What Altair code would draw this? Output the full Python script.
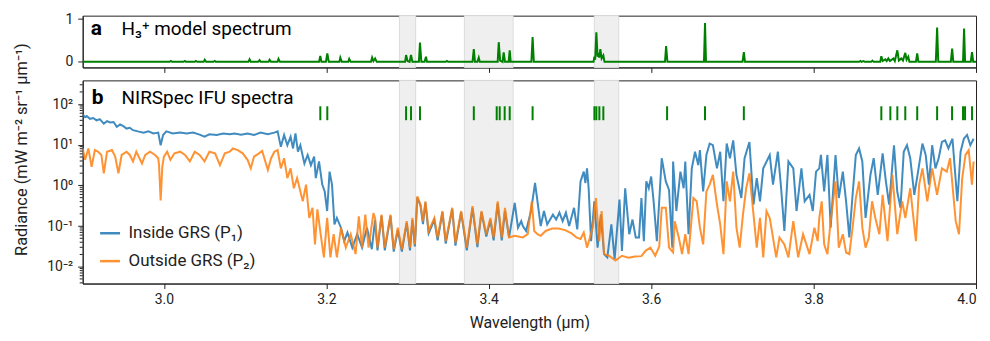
import altair as alt
import numpy as np
import pandas as pd

# ---------------- data ----------------
series_names = ["Inside GRS (P₁)", "Outside GRS (P₂)"]

# (wavelength µm, log10 radiance) for P1 (inside GRS)
p1_points = [
    (2.900, 1.74), (2.903, 1.68), (2.905, 1.71), (2.909, 1.64), (2.913, 1.66), (2.917, 1.60),
    (2.921, 1.63), (2.926, 1.52), (2.930, 1.58), (2.934, 1.55), (2.938, 1.56), (2.942, 1.44),
    (2.946, 1.50), (2.950, 1.46), (2.954, 1.40), (2.958, 1.42), (2.962, 1.36), (2.968, 1.33),
    (2.975, 1.30), (2.981, 1.33), (2.987, 1.28), (2.993, 1.30), (2.996, 0.99), (2.999, 1.24),
    (3.003, 1.33), (3.011, 1.28), (3.020, 1.30), (3.028, 1.28), (3.036, 1.30), (3.044, 1.25),
    (3.050, 1.20), (3.056, 1.26), (3.065, 1.24), (3.073, 1.28), (3.081, 1.26), (3.087, 1.28),
    (3.095, 1.25), (3.103, 1.28), (3.111, 1.24), (3.119, 1.30), (3.128, 1.26), (3.136, 1.30),
    (3.140, 1.33), (3.144, 0.95), (3.148, 1.24), (3.152, 0.99), (3.156, 1.20), (3.159, 0.91),
    (3.162, 1.28), (3.165, 0.83), (3.168, 0.99), (3.173, 0.54), (3.177, 0.75), (3.181, 0.50),
    (3.185, 0.71), (3.187, 0.18), (3.191, 0.59), (3.195, 0.02), (3.198, -0.15), (3.201, -0.63),
    (3.204, 0.34), (3.207, 0.02), (3.210, -0.96), (3.213, -0.80), (3.218, -1.04), (3.222, -1.37),
    (3.226, -1.16), (3.232, -1.53), (3.238, -1.20), (3.244, -1.53), (3.250, -1.04), (3.256, -1.57),
    (3.260, -0.85), (3.263, -1.60), (3.268, -0.75), (3.272, -1.60), (3.279, -0.75), (3.283, -1.63),
    (3.288, -1.10), (3.293, -1.63), (3.299, -0.92), (3.303, -1.60), (3.306, -0.85), (3.309, -1.50),
    (3.312, -0.30), (3.316, -0.50), (3.319, -0.95), (3.322, -0.42), (3.326, -1.18), (3.333, -0.85),
    (3.337, -1.35), (3.343, -0.66), (3.347, -1.43), (3.355, -0.58), (3.359, -1.48), (3.366, -0.66),
    (3.373, -1.60), (3.380, -0.55), (3.386, -1.52), (3.391, -0.66), (3.397, -1.26), (3.402, -0.85),
    (3.406, -1.35), (3.411, -0.45), (3.416, -1.35), (3.420, -0.63), (3.425, -1.28), (3.432, -0.43),
    (3.436, -1.04), (3.440, -0.88), (3.442, -1.00), (3.446, -1.12), (3.452, -0.63), (3.457, 0.06),
    (3.460, -0.39), (3.464, -1.00), (3.468, -0.63), (3.472, -0.96), (3.479, -0.72), (3.483, -0.84),
    (3.487, -0.67), (3.491, -0.88), (3.495, -0.67), (3.499, -1.00), (3.505, -0.55), (3.509, -1.08),
    (3.513, 0.10), (3.517, 0.34), (3.519, 0.06), (3.521, 0.42), (3.523, -0.07), (3.526, -1.37),
    (3.530, -0.39), (3.534, -1.53), (3.538, -0.72), (3.542, -1.69), (3.546, -1.77), (3.551, -0.96),
    (3.555, -1.81), (3.561, -0.35), (3.564, -1.61), (3.568, -0.07), (3.573, -1.20), (3.577, -0.84),
    (3.581, -1.28), (3.585, -1.28), (3.588, -0.31), (3.591, -1.37), (3.594, 0.10), (3.597, -0.07),
    (3.600, 0.22), (3.603, -0.39), (3.607, -1.37), (3.613, 0.67), (3.618, 0.10), (3.622, -0.11),
    (3.626, -1.53), (3.627, 0.59), (3.631, -0.63), (3.636, 0.34), (3.640, -0.07), (3.642, 0.59),
    (3.646, -1.20), (3.650, 0.42), (3.654, 0.83), (3.658, 0.50), (3.660, 0.87), (3.664, -0.15),
    (3.668, 0.75), (3.672, 1.03), (3.676, 0.99), (3.681, 0.42), (3.685, 0.83), (3.689, -0.39),
    (3.693, 1.03), (3.697, 0.67), (3.701, 1.11), (3.705, 0.26), (3.711, -0.31), (3.715, 0.67),
    (3.721, 1.07), (3.726, -0.47), (3.730, 0.18), (3.734, -0.39), (3.738, 0.42), (3.746, 0.75),
    (3.750, 0.02), (3.756, 0.83), (3.760, -0.07), (3.764, -1.12), (3.769, 0.59), (3.775, 0.42),
    (3.779, -0.63), (3.785, 0.42), (3.789, -0.39), (3.795, -0.23), (3.799, -0.63), (3.803, 0.34),
    (3.807, 0.42), (3.809, 0.75), (3.813, -0.15), (3.817, 0.75), (3.821, -1.04), (3.827, 0.75),
    (3.831, -0.31), (3.836, 0.34), (3.840, -0.39), (3.844, -1.28), (3.848, -0.23), (3.852, 0.75),
    (3.856, 0.91), (3.860, 0.59), (3.864, -0.80), (3.870, 0.26), (3.874, 0.67), (3.879, -0.23),
    (3.885, 0.79), (3.889, 0.10), (3.893, -0.47), (3.899, 0.99), (3.903, -0.15), (3.907, -0.55),
    (3.911, 0.83), (3.915, 0.99), (3.919, 0.67), (3.924, -0.23), (3.928, 0.26), (3.934, 1.03),
    (3.938, 0.75), (3.942, 0.02), (3.946, 0.99), (3.950, 0.42), (3.954, 0.67), (3.958, 1.07),
    (3.962, 1.11), (3.966, 0.91), (3.971, 1.15), (3.977, -0.39), (3.981, 0.83), (3.985, 1.15),
    (3.989, 1.24), (3.993, 0.99), (3.997, 1.15),
]

# (wavelength µm, log10 radiance) for P2 (outside GRS)
p2_points = [
    (2.900, 0.91), (2.903, 0.63), (2.907, 0.91), (2.911, 0.46), (2.915, 0.87), (2.919, 0.83),
    (2.923, 0.75), (2.926, 0.30), (2.930, 0.83), (2.936, 0.87), (2.940, 0.71), (2.944, 0.30),
    (2.948, 0.75), (2.954, 0.83), (2.958, 0.75), (2.962, 0.59), (2.966, 0.83), (2.973, 0.54),
    (2.977, 0.75), (2.983, 0.83), (2.989, 0.75), (2.993, 0.67), (2.994, 0.50), (2.996, -0.37),
    (2.998, 0.45), (3.000, 0.71), (3.004, 0.83), (3.008, 0.63), (3.013, 0.79), (3.020, 0.83),
    (3.026, 0.75), (3.032, 0.59), (3.038, 0.83), (3.044, 0.75), (3.050, 0.59), (3.056, 0.83),
    (3.063, 0.79), (3.069, 0.50), (3.075, 0.79), (3.081, 0.83), (3.085, 0.91), (3.091, 0.87),
    (3.097, 0.79), (3.103, 0.63), (3.107, 0.42), (3.111, 0.71), (3.117, 0.79), (3.121, 0.85),
    (3.128, 0.38), (3.132, 0.67), (3.136, 0.83), (3.140, 0.87), (3.144, 0.42), (3.148, 0.67),
    (3.152, 0.18), (3.156, 0.42), (3.160, -0.07), (3.164, 0.18), (3.171, -0.39), (3.175, 0.02),
    (3.179, -0.80), (3.183, -0.55), (3.186, -1.45), (3.189, -0.59), (3.193, -1.20), (3.197, -1.77),
    (3.201, -0.80), (3.205, -1.77), (3.209, -1.20), (3.213, -1.77), (3.218, -1.04), (3.224, -1.53),
    (3.230, -1.20), (3.236, -1.69), (3.240, -0.76), (3.244, -1.53), (3.248, -0.72), (3.252, -1.53),
    (3.258, -0.68), (3.260, -0.80), (3.263, -1.53), (3.268, -0.72), (3.272, -1.53), (3.279, -0.72),
    (3.283, -1.57), (3.288, -1.04), (3.293, -1.57), (3.299, -0.88), (3.303, -1.53), (3.306, -0.80),
    (3.309, -1.45), (3.312, -0.27), (3.316, -0.47), (3.319, -0.88), (3.322, -0.39), (3.326, -1.12),
    (3.333, -0.80), (3.337, -1.28), (3.343, -0.63), (3.347, -1.37), (3.355, -0.55), (3.359, -1.41),
    (3.366, -0.63), (3.373, -1.53), (3.380, -0.51), (3.386, -1.45), (3.391, -0.63), (3.397, -1.20),
    (3.402, -0.80), (3.406, -1.28), (3.411, -0.39), (3.416, -1.28), (3.420, -0.55), (3.425, -1.28),
    (3.432, -1.24), (3.442, -1.28), (3.448, -1.20), (3.453, -0.39), (3.456, -1.12), (3.460, -1.20),
    (3.464, -1.24), (3.470, -1.12), (3.478, -1.06), (3.486, -1.06), (3.494, -1.10), (3.502, -1.18),
    (3.508, -1.28), (3.513, -1.32), (3.517, -1.16), (3.521, -1.53), (3.528, -1.04), (3.532, -0.31),
    (3.536, -1.37), (3.539, -0.63), (3.542, -1.69), (3.548, -1.73), (3.556, -1.85), (3.564, -1.73),
    (3.572, -1.78), (3.580, -1.75), (3.588, -1.74), (3.593, -1.61), (3.599, -1.53), (3.605, -1.73),
    (3.610, -1.50), (3.613, -0.55), (3.618, -0.55), (3.622, -1.53), (3.627, -1.65), (3.629, -0.88),
    (3.634, -1.28), (3.638, -1.69), (3.642, -1.20), (3.646, -1.69), (3.652, -0.31), (3.656, -0.39),
    (3.660, -1.04), (3.664, -1.45), (3.668, -0.15), (3.672, 0.02), (3.676, 0.26), (3.681, -0.47),
    (3.685, -0.96), (3.689, -1.69), (3.693, 0.10), (3.697, -0.39), (3.701, 0.34), (3.705, -1.04),
    (3.709, -1.53), (3.713, -0.72), (3.717, -0.07), (3.721, 0.30), (3.726, -0.72), (3.730, -1.53),
    (3.734, -0.80), (3.738, -1.77), (3.742, -0.63), (3.746, -0.80), (3.754, -1.77), (3.758, -1.28),
    (3.764, -1.45), (3.769, -1.77), (3.775, -0.88), (3.781, -1.77), (3.787, -1.20), (3.795, -1.69),
    (3.801, -1.04), (3.805, -1.37), (3.807, -0.80), (3.810, -0.39), (3.813, -1.45), (3.817, -1.69),
    (3.821, -0.88), (3.827, 0.10), (3.831, -1.53), (3.836, -1.20), (3.840, -1.65), (3.844, -1.69),
    (3.848, -1.04), (3.852, -0.31), (3.856, 0.10), (3.860, -1.04), (3.864, -1.53), (3.868, -1.28),
    (3.872, -0.39), (3.876, -0.80), (3.881, -1.20), (3.885, -0.23), (3.891, -1.37), (3.897, 0.26),
    (3.903, -1.20), (3.909, -0.39), (3.913, -0.80), (3.919, -0.07), (3.926, -1.37), (3.930, 0.02),
    (3.934, 0.42), (3.940, -0.39), (3.946, 0.42), (3.952, -0.23), (3.958, 0.42), (3.964, 0.34),
    (3.968, 0.67), (3.975, -0.88), (3.979, -1.20), (3.983, 0.18), (3.987, 0.75), (3.991, 0.87),
    (3.995, 0.02), (3.997, 0.59),
]

# H3+ model spectrum (wavelength µm, normalised intensity)
h3_points = [
    (2.900, 0.0), (3.007, 0.0), (3.0086, 0.02), (3.010, 0.0), (3.024, 0.0), (3.0258, 0.02), (3.027, 0.0),
    (3.038, 0.0), (3.0393, 0.02), (3.041, 0.0), (3.049, 0.0), (3.0503, 0.05), (3.052, 0.0),
    (3.061, 0.0), (3.0626, 0.02), (3.064, 0.0), (3.104, 0.0), (3.1055, 0.06), (3.107, 0.0),
    (3.116, 0.0), (3.1178, 0.04), (3.119, 0.0), (3.129, 0.0), (3.1301, 0.05), (3.132, 0.0),
    (3.140, 0.0), (3.1411, 0.07), (3.143, 0.0), (3.191, 0.0), (3.1926, 0.14), (3.194, 0.0),
    (3.1995, 0.0), (3.2012, 0.20), (3.203, 0.0), (3.216, 0.0), (3.2172, 0.10), (3.219, 0.0),
    (3.227, 0.0), (3.2282, 0.07), (3.230, 0.0), (3.255, 0.0), (3.2564, 0.10), (3.258, 0.02),
    (3.2601, 0.08), (3.262, 0.0), (3.297, 0.0), (3.2982, 0.16), (3.300, 0.02), (3.3025, 0.0),
    (3.3043, 0.16), (3.306, 0.0), (3.314, 0.0), (3.3153, 0.45), (3.317, 0.0), (3.321, 0.0),
    (3.3227, 0.12), (3.324, 0.0), (3.347, 0.0), (3.3485, 0.02), (3.350, 0.0), (3.380, 0.0),
    (3.3816, 0.30), (3.383, 0.0), (3.386, 0.0), (3.3877, 0.10), (3.389, 0.0), (3.411, 0.0),
    (3.4123, 0.46), (3.414, 0.03), (3.417, 0.0), (3.4184, 0.22), (3.420, 0.0), (3.4245, 0.0),
    (3.4258, 0.27), (3.427, 0.0), (3.4525, 0.0), (3.4540, 0.58), (3.4555, 0.0), (3.529, 0.0),
    (3.5301, 0.12), (3.531, 0.05), (3.5325, 0.69), (3.534, 0.12), (3.5350, 0.20), (3.536, 0.10),
    (3.5374, 0.30), (3.539, 0.08), (3.5411, 0.15), (3.5425, 0.0), (3.617, 0.0), (3.6184, 0.37),
    (3.620, 0.0), (3.665, 0.0), (3.6663, 0.91), (3.6675, 0.0), (3.7125, 0.0), (3.7141, 0.23),
    (3.7155, 0.0), (3.856, 0.0), (3.8577, 0.02), (3.859, 0.0), (3.8614, 0.02), (3.863, 0.0),
    (3.871, 0.0), (3.8724, 0.03), (3.874, 0.0), (3.882, 0.0), (3.8834, 0.13), (3.885, 0.02),
    (3.8883, 0.06), (3.890, 0.02), (3.8920, 0.08), (3.894, 0.02), (3.8982, 0.08), (3.900, 0.02),
    (3.9031, 0.27), (3.905, 0.03), (3.9080, 0.08), (3.910, 0.03), (3.9129, 0.21), (3.9145, 0.05),
    (3.9166, 0.12), (3.918, 0.0), (3.926, 0.0), (3.9276, 0.20), (3.929, 0.0), (3.9505, 0.0),
    (3.9521, 0.80), (3.9535, 0.0), (3.969, 0.0), (3.9706, 0.31), (3.972, 0.0), (3.984, 0.0),
    (3.9853, 0.78), (3.9865, 0.0), (3.9935, 0.0), (3.9951, 0.23), (3.9965, 0.0), (4.000, 0.0),
]

# H3+ line positions marked in panel b
h3_line_wl = [3.1926, 3.2012, 3.2982, 3.3043, 3.3153, 3.3816, 3.4098, 3.4135, 3.4196, 3.4258,
              3.4540, 3.5301, 3.5325, 3.5362, 3.5411, 3.6196, 3.6663, 3.7141, 3.8834, 3.8945,
              3.9031, 3.9129, 3.9276, 3.9521, 3.9705, 3.9840, 3.9865, 3.9951]

band_start = [3.29, 3.37, 3.53]
band_end = [3.31, 3.43, 3.56]

x_ticks = [3.0, 3.2, 3.4, 3.6, 3.8, 4.0]
y_ticks_a = [0, 1]
y_ticks_b = [0.01, 0.1, 1, 10, 100]
y_dom_b = [0.00385, 385]
minor_ticks = [m * 10.0 ** e for e in range(-3, 3) for m in range(2, 10)
               if y_dom_b[0] <= m * 10.0 ** e <= y_dom_b[1]]

# ---------------- tables ----------------
df_spec = pd.concat([
    pd.DataFrame({"wl": [p[0] for p in p1_points],
                  "rad": np.power(10.0, [p[1] for p in p1_points]),
                  "series": series_names[0]}),
    pd.DataFrame({"wl": [p[0] for p in p2_points],
                  "rad": np.power(10.0, [p[1] for p in p2_points]),
                  "series": series_names[1]}),
], ignore_index=True)
df_h3 = pd.DataFrame({"wl": [p[0] for p in h3_points], "val": [p[1] for p in h3_points]})
df_lines = pd.DataFrame({"wl": h3_line_wl})
df_bands = pd.DataFrame({"start": band_start, "end": band_end})
df_minor = pd.DataFrame({"v": minor_ticks})

FONT = "Roboto"
W = 897
xs = alt.Scale(domain=[2.9, 4.0], nice=False, zero=False)

ax_top = alt.Axis(values=x_ticks, labels=False, tickSize=5, title=None, grid=False)
ax_bot = alt.Axis(values=x_ticks, format=".1f", tickSize=5, title="Wavelength (µm)", grid=False,
                  labelFontSize=14, titleFontSize=16, labelPadding=4, titlePadding=8)

ys_top = alt.Scale(domain=[-0.13, 1.08], nice=False, zero=False)
ay_top = alt.Axis(values=y_ticks_a, format="d", tickSize=5, labelPadding=5, grid=False, title=None,
                  minExtent=44, maxExtent=44, labelFontSize=14)

ys_bot = alt.Scale(type="log", domain=y_dom_b, nice=False)
label_expr = ("datum.value >= 99 ? '10²' : datum.value >= 9 ? '10¹' : datum.value >= 0.9 ? '10⁰' : "
              "datum.value >= 0.09 ? '10⁻¹' : '10⁻²'")
ay_bot = alt.Axis(values=y_ticks_b, labelExpr=label_expr, tickSize=5, labelPadding=5, grid=False,
                  title="Radiance (mW m⁻² sr⁻¹ µm⁻¹)", titleFontSize=16.5, titlePadding=9,
                  titleY=69, minExtent=44, maxExtent=44, labelFontSize=14)

band_mark = dict(fill="#efefef", stroke="#dcdcdc", strokeWidth=1)

# ---------------- panel a ----------------
bands_a = alt.Chart(df_bands).mark_rect(**band_mark).encode(
    x=alt.X("start:Q", scale=xs, axis=ax_top), x2="end:Q")
h3_line = alt.Chart(df_h3).mark_line(color="#008000", strokeWidth=2, clip=True).encode(
    x=alt.X("wl:Q", scale=xs, axis=ax_top),
    y=alt.Y("val:Q", scale=ys_top, axis=ay_top))
lab_a = alt.Chart(pd.DataFrame({"t": ["a"]})).mark_text(
    align="left", baseline="alphabetic", fontSize=21, fontWeight="bold", font=FONT, color="black"
).encode(x=alt.value(8), y=alt.value(19), text="t:N")
title_a = alt.Chart(pd.DataFrame({"t": ["H₃⁺ model spectrum"]})).mark_text(
    align="left", baseline="alphabetic", fontSize=19, font=FONT, color="black"
).encode(x=alt.value(39), y=alt.value(19), text="t:N")
panel_a = alt.layer(bands_a, h3_line, lab_a, title_a).properties(width=W, height=52)

# ---------------- panel b ----------------
bands_b = alt.Chart(df_bands).mark_rect(**band_mark).encode(
    x=alt.X("start:Q", scale=xs, axis=ax_bot), x2="end:Q")
spec = alt.Chart(df_spec).mark_line(strokeWidth=2, opacity=0.85, clip=True).encode(
    x=alt.X("wl:Q", scale=xs, axis=ax_bot),
    y=alt.Y("rad:Q", scale=ys_bot, axis=ay_bot),
    color=alt.Color("series:N",
                    scale=alt.Scale(domain=series_names, range=["#1f77b4", "#ff7f0e"]),
                    legend=alt.Legend(title=None, orient="none", legendX=16, legendY=207,
                                      symbolType="stroke", symbolSize=400, symbolStrokeWidth=2.5,
                                      labelFontSize=17, labelFont=FONT, rowPadding=8,
                                      labelOffset=7, padding=0, symbolOpacity=0.85)))
ticks_b = alt.Chart(df_lines).mark_rule(color="#008000", strokeWidth=2).encode(
    x=alt.X("wl:Q", scale=xs, axis=ax_bot), y=alt.value(26), y2=alt.value(40))
minor_b = alt.Chart(df_minor).mark_rule(color="#222", strokeWidth=1).encode(
    y=alt.Y("v:Q", scale=ys_bot, axis=ay_bot), x=alt.value(-3), x2=alt.value(0))
lab_b = alt.Chart(pd.DataFrame({"t": ["b"]})).mark_text(
    align="left", baseline="alphabetic", fontSize=21, fontWeight="bold", font=FONT, color="black"
).encode(x=alt.value(9), y=alt.value(24), text="t:N")
title_b = alt.Chart(pd.DataFrame({"t": ["NIRSpec IFU spectra"]})).mark_text(
    align="left", baseline="alphabetic", fontSize=19, font=FONT, color="black"
).encode(x=alt.value(39), y=alt.value(24), text="t:N")
panel_b = alt.layer(bands_b, spec, ticks_b, minor_b, lab_b, title_b).properties(width=W, height=204)

chart = alt.vconcat(panel_a, panel_b, spacing=13, bounds="flush").properties(
    padding={"left": 5, "top": 2, "right": 5, "bottom": 5}
).configure_view(stroke="#222", strokeWidth=1).configure_axis(
    labelFont=FONT, titleFont=FONT, labelColor="#222", titleColor="#222",
    domainColor="#222", tickColor="#222", titleFontWeight="normal"
).configure_legend(labelColor="#222")

chart.save("out.html", embed_options={"renderer": "svg", "actions": False})
